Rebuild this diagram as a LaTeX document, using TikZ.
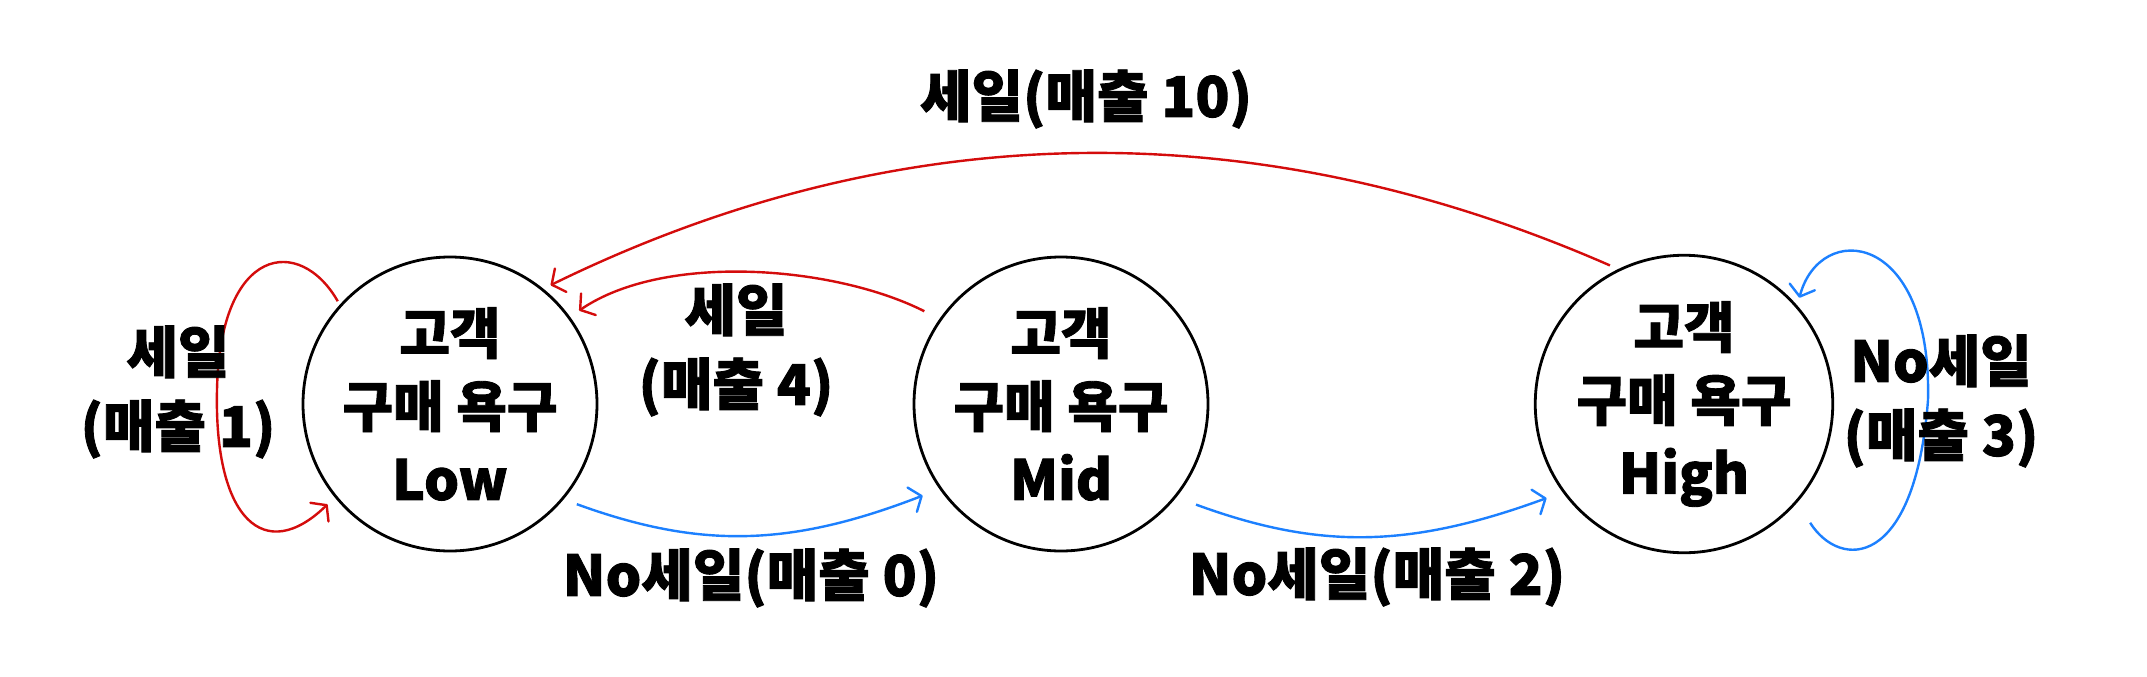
\documentclass[tikz,border=0pt]{standalone}
\usepackage{fontspec}
\setmainfont{Noto Sans CJK KR}[BoldFeatures={FakeBold=1.6}]
\usetikzlibrary{arrows.meta}
\definecolor{lred}{RGB}{212,12,12}
\definecolor{lblue}{RGB}{28,128,255}
\begin{document}
\begin{tikzpicture}[x=1pt,y=-1pt,
  state/.style={circle,draw=black,line width=2.8pt,minimum size=294pt,inner sep=0pt,align=center,
    font=\bfseries\fontsize{55}{73}\selectfont},
  lbl/.style={inner sep=0pt,align=center,font=\bfseries\fontsize{56}{74}\selectfont},
  tip/.style={-{Straight Barb[length=10pt,width=26pt,line cap=round,line join=round]}},
  redarrow/.style={draw=lred,line width=2.4pt,tip},
  bluearrow/.style={draw=lblue,line width=2.4pt,tip}]
\useasboundingbox (0,0) rectangle (2147,677);
\fill[white] (0,0) rectangle (2147,677);

\node[state] (low) at (450,404) {고객\\구매 욕구\\Low};
\node[state] (mid) at (1061,404) {고객\\구매 욕구\\Mid};
\node[state] (high) at (1684,404) {고객\\구매 욕구\\High};

% top arc High -> Low
\draw[redarrow,shorten <=9pt,shorten >=8pt] (high.116) .. controls (1255,110) and (898,115) .. (low.51);
% Mid -> Low
\draw[redarrow,shorten <=17pt,shorten >=11pt] (mid.145) .. controls (835,266) and (665,252) .. (low.36);
% Low -> Mid
\draw[bluearrow,shorten <=14pt,shorten >=18pt] (low.-40) .. controls (700,549) and (790,547) .. (mid.215);
% Mid -> High
\draw[bluearrow,shorten <=21pt,shorten >=17pt] (mid.-39) .. controls (1320,550) and (1410,548) .. (high.216);
% Low self loop
\draw[redarrow,shorten <=4pt,shorten >=10pt] (low.138) .. controls (300,235) and (220,245) .. (217,390)
   .. controls (214,520) and (265,565) .. (low.219);
% High self loop
\draw[bluearrow,shorten <=24pt,shorten >=8pt] (high.-41) .. controls (1840,570) and (1915,570) .. (1928,400)
   .. controls (1932,230) and (1820,220) .. (high.41);

\node[lbl] (l10) at (1086,99) {세일(매출 10)};
\node[lbl] (l4) at (736,350) {세일\\(매출 4)};
\node[lbl] (l1) at (178,392) {세일\\(매출 1)};
\node[lbl] (l3) at (1941,401) {No세일\\(매출 3)};
\node[lbl] (l0) at (751,578) {No세일(매출 0)};
\node[lbl] (l2) at (1377,577) {No세일(매출 2)};
\end{tikzpicture}
\end{document}
